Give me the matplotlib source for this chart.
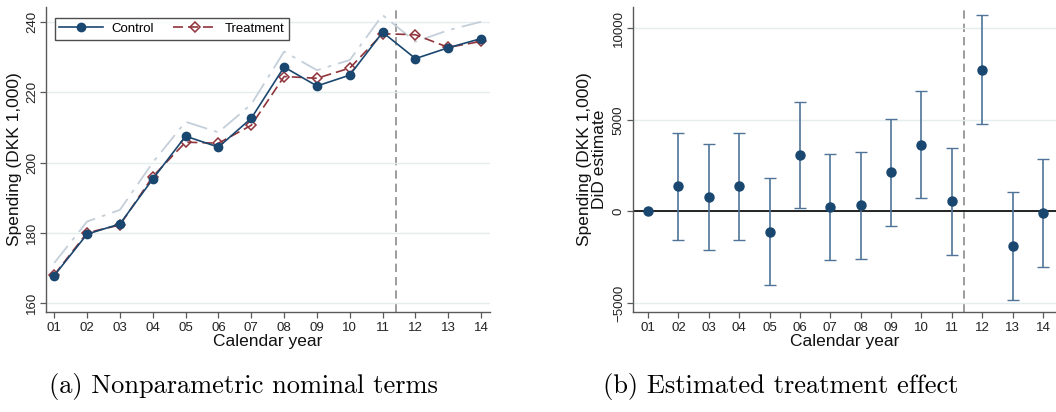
import matplotlib
matplotlib.use("Agg")
import matplotlib.pyplot as plt
import numpy as np

# ── Data ──────────────────────────────────────────────────────────────────────
years = list(range(1, 15))
year_labels = [f"{y:02d}" for y in years]

control   = [167.8, 179.6, 182.5, 195.3, 207.5, 204.4, 212.6, 227.2, 221.8, 224.9, 237.1, 229.6, 232.7, 235.3]
treatment = [168.0, 180.0, 182.2, 196.0, 205.8, 205.5, 210.6, 224.5, 224.0, 226.9, 236.7, 236.4, 232.8, 234.5]
reference = [171.4, 183.2, 186.5, 200.0, 211.6, 208.6, 216.6, 231.6, 226.3, 229.2, 242.0, 234.4, 237.7, 240.1]

did_est = [0, 1363, 785, 1363, -1106, 3090, 218, 349, 2126, 3619, 545, 7723, -1907, -87]
did_hi  = [0, 4273, 3690, 4273, 1820, 5995, 3128, 3270, 5052, 6562, 3472, 10704, 1035, 2856]
did_lo  = [0, -1542, -2104, -1542, -3995, 202, -2670, -2578, -796, 709, -2376, 4763, -4829, -3052]

left_yticks  = [160, 180, 200, 220, 240]
right_yticks = [-5000, 0, 5000, 10000]
reform_x = 11.4

# ── Style ─────────────────────────────────────────────────────────────────────
NAVY   = "#1a476f"
MAROON = "#90353b"
REFC   = "#c4cfda"
BAR    = "#4f7498"
GRID   = "#e4eeef"
AXC    = "#5a5a5a"
plt.rcParams["font.family"] = ["Liberation Sans", "DejaVu Sans"]

fig = plt.figure(figsize=(10.56, 4.12), dpi=100)
ax1 = fig.add_axes([0.0436, 0.2434, 0.4204, 0.7396])
ax2 = fig.add_axes([0.599, 0.2434, 0.401, 0.7396])


def style_ax(ax, yticks):
    for s in ("top", "right"):
        ax.spines[s].set_visible(False)
    for s in ("left", "bottom"):
        ax.spines[s].set_color(AXC)
        ax.spines[s].set_linewidth(1.0)
    ax.set_xticks(years)
    ax.set_xticklabels(year_labels)
    ax.set_yticks(yticks)
    ax.tick_params(axis="both", colors=AXC, labelcolor="#222222", labelsize=9.5,
                   length=4, width=0.9, direction="out")
    ax.tick_params(axis="y", pad=1.5)
    for lab in ax.get_yticklabels():
        lab.set_rotation(90)
        lab.set_va("center")
    ax.grid(axis="y", color=GRID, linewidth=1.0, zorder=0)
    ax.set_xlabel("Calendar year", fontsize=12.5, color="#111111", labelpad=0)
    ax.axvline(reform_x, color="#8c8c8c", linestyle=(0, (5, 3)), linewidth=1.2, zorder=1)


# ── Panel (a) ─────────────────────────────────────────────────────────────────
ax1.plot(years, reference, color=REFC, linewidth=1.3, linestyle=(0, (12, 4, 2, 4)), zorder=2)
ax1.plot(years, control, color=NAVY, linewidth=1.2, marker="o", markersize=6,
         label="Control", zorder=4)
ax1.plot(years, treatment, color=MAROON, linewidth=1.2, linestyle=(0, (6, 3)),
         marker="D", markersize=5, markerfacecolor="none", markeredgewidth=1.1,
         label="Treatment", zorder=3)
ax1.set_xlim(0.75, 14.27)
ax1.set_ylim(157.5, 244.3)
style_ax(ax1, left_yticks)
ax1.set_ylabel("Spending (DKK 1,000)", fontsize=12.5, color="#111111", labelpad=3)
leg = ax1.legend(loc="upper left", bbox_to_anchor=(0.005, 0.985), ncol=2, fontsize=9.5,
                 frameon=True, fancybox=False, edgecolor="#222222", handlelength=3.3,
                 columnspacing=1.5, borderpad=0.35, handletextpad=0.6)
leg.get_frame().set_linewidth(1.0)

# ── Panel (b) ─────────────────────────────────────────────────────────────────
est = np.array(did_est)
err = np.array([est - np.array(did_lo), np.array(did_hi) - est])
ax2.axhline(0, color="black", linewidth=1.2, zorder=2)
ax2.errorbar(years[1:], est[1:], yerr=err[:, 1:], fmt="none", ecolor=BAR,
             elinewidth=1.2, capsize=4, capthick=1.0, zorder=3)
ax2.plot(years, did_est, "o", color=NAVY, markersize=6.5, zorder=4)
ax2.set_xlim(0.49, 14.43)
ax2.set_ylim(-5474, 11156)
style_ax(ax2, right_yticks)
ax2.set_ylabel("Spending (DKK 1,000)\nDiD estimate", fontsize=12.5, color="#111111",
               labelpad=4, linespacing=1.0)

# ── Captions ──────────────────────────────────────────────────────────────────
fig.text(0.231, 0.061, "(a) Nonparametric nominal terms", family="cmr10",
         fontsize=19, ha="center", va="center")
fig.text(0.739, 0.061, "(b) Estimated treatment effect", family="cmr10",
         fontsize=19, ha="center", va="center")

fig.savefig("out.png", dpi=100)
